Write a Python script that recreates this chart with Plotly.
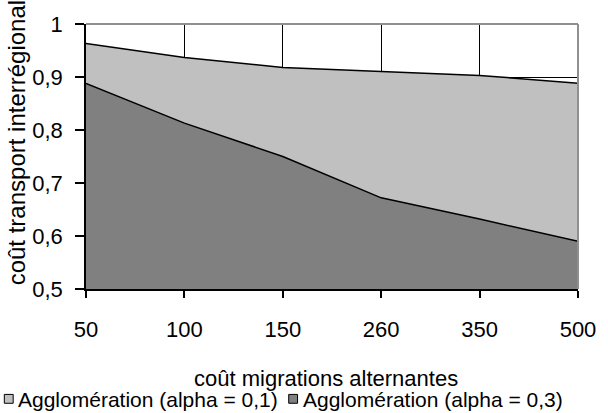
import plotly.graph_objects as go

categories = ["50", "100", "150", "260", "350", "500"]
alpha01 = [0.963, 0.937, 0.918, 0.910, 0.903, 0.888]
alpha03 = [0.888, 0.813, 0.750, 0.672, 0.632, 0.590]
series_names = ["Agglomération (alpha = 0,1)", "Agglomération (alpha = 0,3)"]
series_colors = ["#C0C0C0", "#808080"]
y_ticks = [0.5, 0.6, 0.7, 0.8, 0.9, 1.0]
y_ticktext = ["0,5", "0,6", "0,7", "0,8", "0,9", "1"]
x_title = "coût migrations alternantes"
y_title = "coût transport interrégional"

FONT = "Liberation Sans, Arial, sans-serif"
W, H = 608, 413
L, R, T, B = 86, 22, 20, 124
PW, PH = W - L - R, H - T - B


def px(x):
    return (x - L) / PW


def py(y):
    return (H - B - y) / PH


fig = go.Figure()
for vals, name, col in zip([alpha01, alpha03], series_names, series_colors):
    fig.add_trace(go.Scatter(
        x=categories, y=vals, name=name, mode="lines",
        fill="tozeroy", fillcolor=col, line=dict(color="black", width=1.5),
        showlegend=False,
    ))

annotations = [
    dict(text=x_title, xref="paper", yref="paper", x=px(330), y=py(380),
         xanchor="center", yanchor="middle", showarrow=False,
         font=dict(size=22)),
    dict(text=y_title, xref="paper", yref="paper", x=px(15), y=py(140),
         xanchor="center", yanchor="middle", textangle=-90, showarrow=False,
         font=dict(size=24)),
]
shapes = [
    dict(type="line", xref="paper", yref="paper", x0=0, x1=1, y0=1, y1=1,
         line=dict(color="#909090", width=2)),
    dict(type="line", xref="paper", yref="paper", x0=1, x1=1, y0=0, y1=1,
         line=dict(color="#909090", width=2)),
]
# manual legend
leg_sq_x = [3, 292]
leg_text_x = [15, 305]
for i, name in enumerate(series_names):
    shapes.append(dict(type="rect", xref="paper", yref="paper",
                       x0=px(leg_sq_x[i]), x1=px(leg_sq_x[i] + 9),
                       y0=py(405), y1=py(396),
                       fillcolor=series_colors[i], line=dict(color="black", width=1)))
    annotations.append(dict(text=name, xref="paper", yref="paper",
                            x=px(leg_text_x[i]), y=py(401), xanchor="left",
                            yanchor="middle", showarrow=False,
                            font=dict(size=21)))

fig.update_layout(
    width=W, height=H,
    margin=dict(l=L, r=R, t=T, b=B),
    paper_bgcolor="white", plot_bgcolor="white",
    font=dict(family=FONT, size=22, color="black"),
    showlegend=False,
    annotations=annotations,
    shapes=shapes,
)

fig.update_xaxes(
    type="category", range=[0, 5],
    showgrid=True, gridcolor="black", gridwidth=1,
    showline=True, linecolor="black", linewidth=1.5,
    ticks="outside", ticklen=7, tickcolor="black", tickwidth=1.5,
    tickfont=dict(size=22), ticklabelstandoff=13,
)
fig.update_yaxes(
    range=[0.5, 1.0], tickvals=y_ticks, ticktext=y_ticktext,
    showgrid=True, gridcolor="black", gridwidth=1,
    showline=True, linecolor="black", linewidth=1.5,
    ticks="outside", ticklen=9, tickcolor="black", tickwidth=1.5,
    tickfont=dict(size=22), zeroline=False, ticklabelstandoff=8,
)

fig.write_html("out.html")
